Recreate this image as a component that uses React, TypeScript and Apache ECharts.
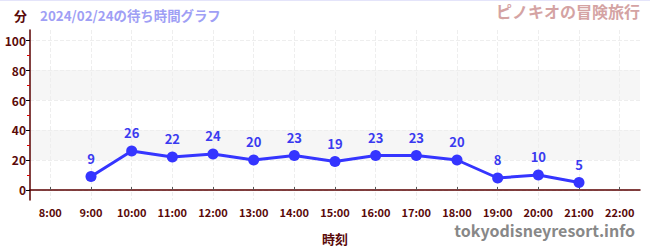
import React, { useEffect, useRef } from "react";
import * as echarts from "echarts";

const hours = [8, 9, 10, 11, 12, 13, 14, 15, 16, 17, 18, 19, 20, 21, 22];
const waits: (number | null)[] = [null, 9, 26, 22, 24, 20, 23, 19, 23, 23, 20, 8, 10, 5, null];
const yMajor = [0, 20, 40, 60, 80, 100];
const yMinor = [10, 30, 50, 70, 90];

const title = "ピノキオの冒険旅行";
const subtitle = "2024/02/24の待ち時間グラフ";
const yName = "分";
const xName = "時刻";
const watermark = "tokyodisneyresort.info";

const FONT = "'Noto Sans CJK JP', 'Noto Sans', sans-serif";
const MAROON = "#5a0a0a";

export default function App() {
  const ref = useRef<HTMLDivElement>(null);
  useEffect(() => {
    document.body.style.margin = "0";
    if (!ref.current) return;
    const chart = echarts.init(ref.current, null, { renderer: "svg" });
    const data = hours.map((h, i) => [h, waits[i]]).filter((d) => d[1] !== null);
    chart.setOption({
      animation: false,
      textStyle: { fontFamily: FONT },
      grid: { left: 30, right: 10, top: 30, bottom: 50 },
      xAxis: {
        type: "value",
        min: 7.5,
        max: 22.5,
        name: xName,
        nameLocation: "middle",
        nameGap: 32,
        nameTextStyle: { color: MAROON, fontWeight: "bold", fontSize: 13, fontFamily: FONT },
        axisLine: { show: true, lineStyle: { color: "#5a0000", width: 1.5 } },
        axisTick: { show: true, inside: true, length: 3, customValues: hours, lineStyle: { color: "#555" } },
        axisLabel: {
          customValues: hours,
          formatter: (v: number) => `${v}:00`,
          color: MAROON,
          fontWeight: "bold",
          fontSize: 11,
          fontFamily: FONT,
          margin: 6,
        },
        splitLine: { show: true, lineStyle: { color: "#eeeeee", type: "dashed" } },
      },
      yAxis: [
        {
          type: "value",
          min: -6.667,
          max: 106.667,
          axisLine: { show: true, lineStyle: { color: "#5a0000", width: 1.5 } },
          axisTick: { show: true, length: 4, customValues: yMajor, lineStyle: { color: "#000" } },
          axisLabel: {
            customValues: yMajor,
            color: MAROON,
            fontWeight: "bold",
            fontSize: 12,
            fontFamily: FONT,
            margin: 4,
          },
          splitLine: { show: true, lineStyle: { color: "#eeeeee", type: "dashed" } },
          splitArea: { show: true, areaStyle: { color: ["rgba(255,255,255,0)", "#f6f6f6"] } },
        },
        {
          type: "value",
          min: -6.667,
          max: 106.667,
          position: "left",
          axisLine: { show: false },
          axisTick: { show: true, length: 3, customValues: yMinor, lineStyle: { color: "#dd0000" } },
          axisLabel: { show: false },
          splitLine: { show: false },
        },
      ],
      graphic: [
        {
          type: "text",
          left: 14,
          top: 9,
          style: { text: yName, fill: MAROON, font: `bold 13px ${FONT}` },
        },
        {
          type: "text",
          left: 40,
          top: 8,
          style: { text: subtitle, fill: "#9f9ff5", font: `bold 13.4px ${FONT}` },
        },
        {
          type: "text",
          right: 10,
          top: 3,
          style: { text: title, fill: "#d4a3a3", font: `bold 16px ${FONT}` },
        },
        {
          type: "text",
          right: 15,
          top: 222,
          style: { text: watermark, fill: "#888888", font: `bold 16px ${FONT}` },
        },
      ],
      series: [
        {
          type: "line",
          data,
          yAxisIndex: 0,
          symbol: "circle",
          symbolSize: 11,
          lineStyle: { color: "#3535ff", width: 3 },
          itemStyle: { color: "#3535ff" },
          label: {
            show: true,
            position: "top",
            distance: 6,
            color: "#3a3af0",
            fontWeight: "bold",
            fontSize: 13,
            fontFamily: FONT,
          },
        },
      ],
    });
    return () => chart.dispose();
  }, []);
  return (
    <div style={{ position: "relative", width: 650, height: 250 }}>
      <div ref={ref} style={{ width: 650, height: 250 }} />
      <div
        style={{
          position: "absolute",
          left: 0,
          top: 0,
          width: 650,
          height: 1,
          background: "#e4e4fa",
          pointerEvents: "none",
        }}
      />
    </div>
  );
}
